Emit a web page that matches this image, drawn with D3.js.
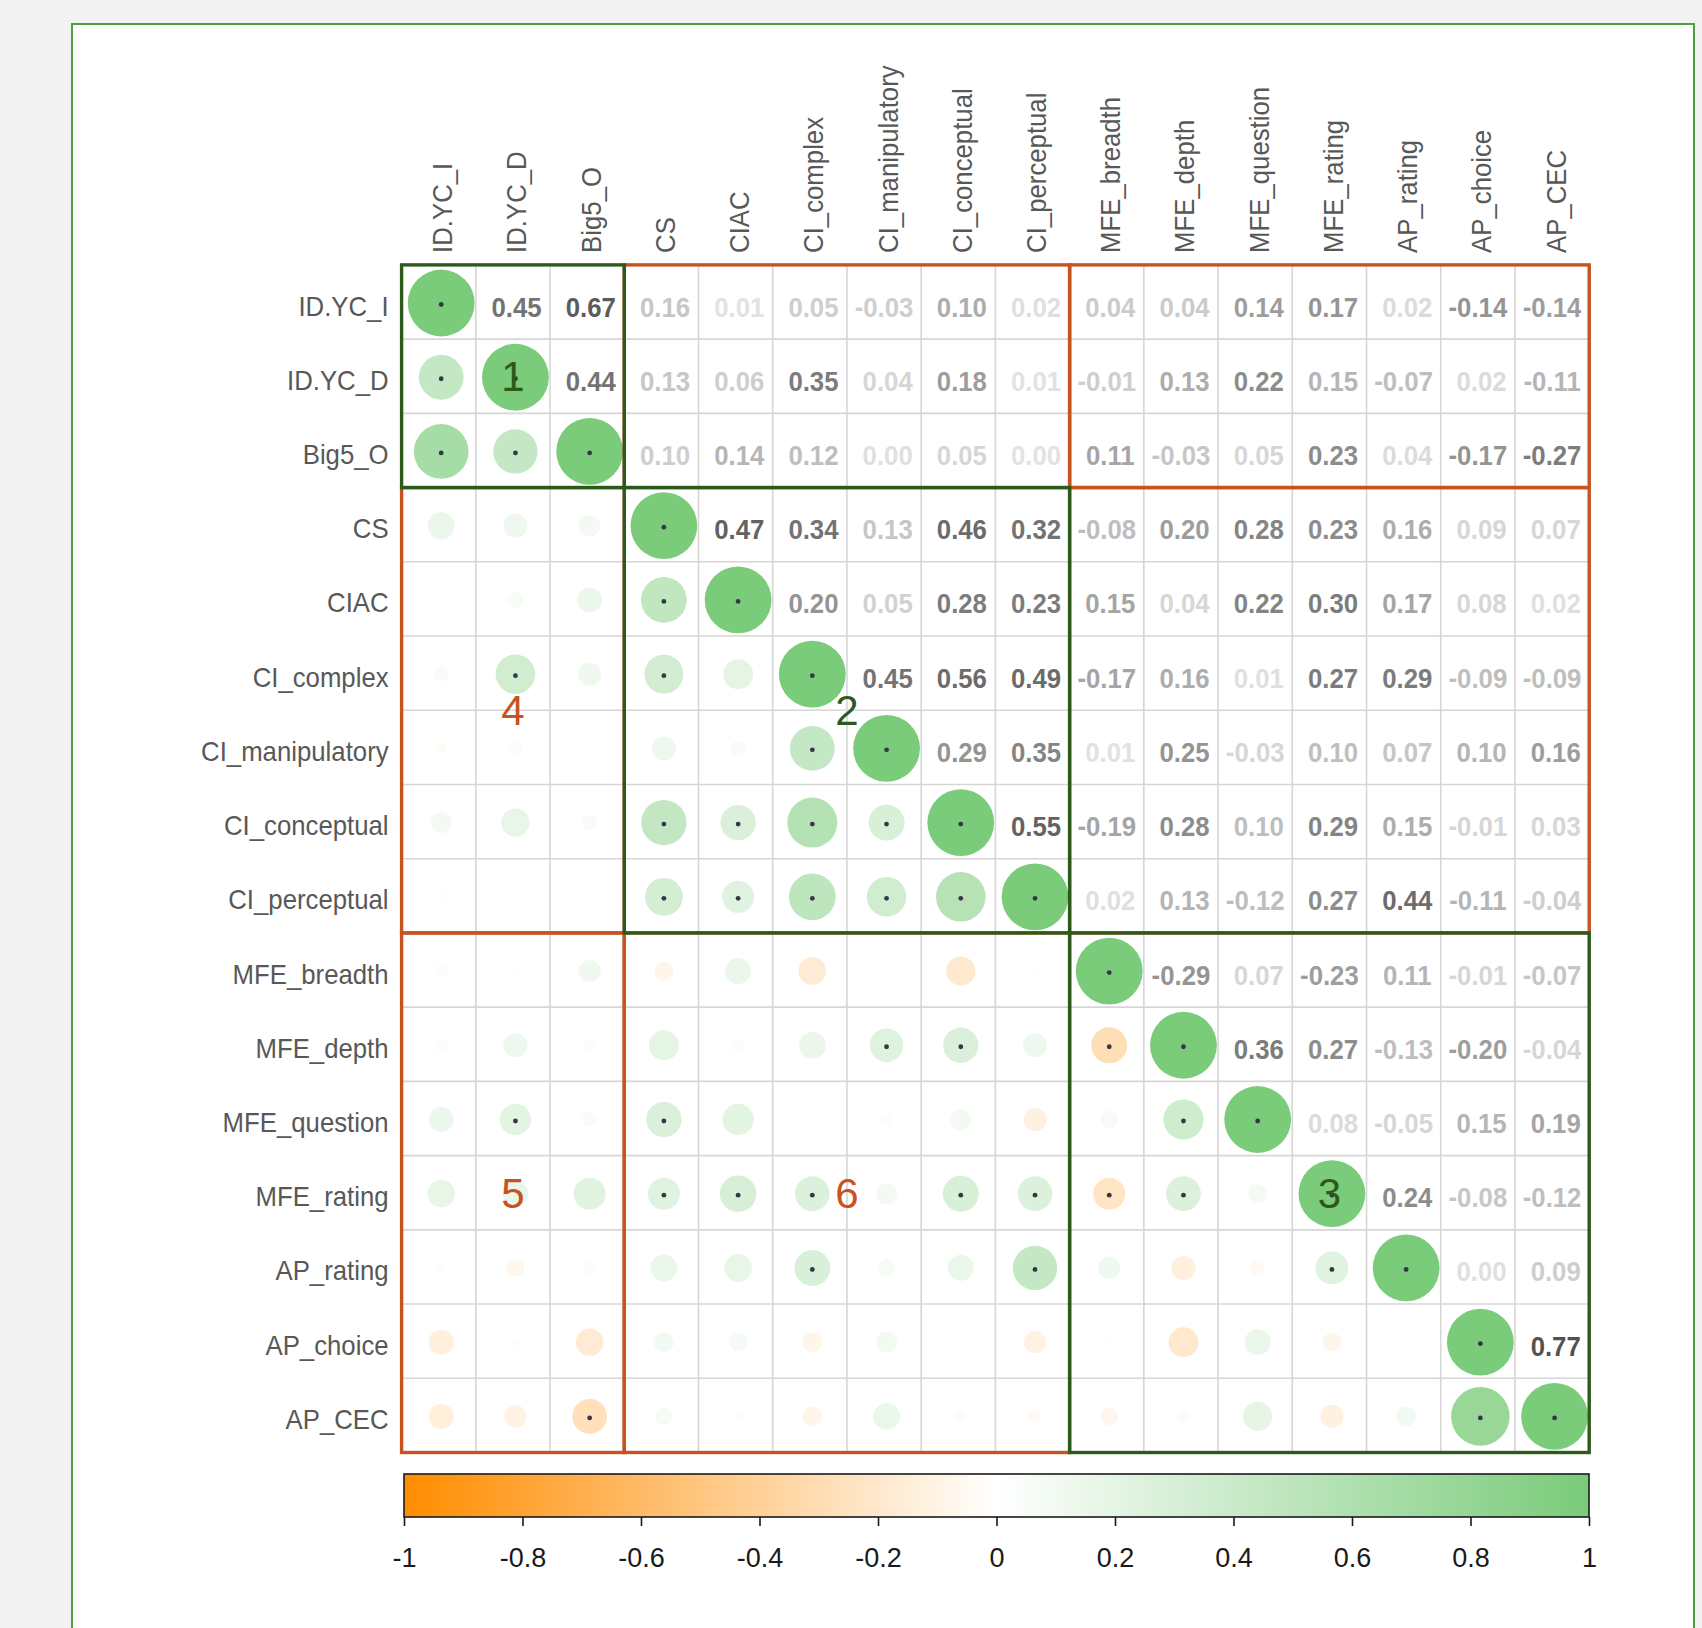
<!DOCTYPE html>
<html><head><meta charset="utf-8">
<script src="https://cdn.jsdelivr.net/npm/d3@7"></script>
<style>html,body{margin:0;padding:0;background:#f3f3f3;} svg{display:block}</style>
</head><body><svg id="chart" width="1702" height="1628"></svg>
<script>
// ---------------- DATA ----------------
const variables = ["ID.YC_I","ID.YC_D","Big5_O","CS","CIAC","CI_complex","CI_manipulatory",
  "CI_conceptual","CI_perceptual","MFE_breadth","MFE_depth","MFE_question","MFE_rating",
  "AP_rating","AP_choice","AP_CEC"];

// correlations above the diagonal, row by row (columns after the diagonal)
const corr_ID_YC_I        = [0.45, 0.67, 0.16, 0.01, 0.05, -0.03, 0.10, 0.02, 0.04, 0.04, 0.14, 0.17, 0.02, -0.14, -0.14];
const corr_ID_YC_D        = [0.44, 0.13, 0.06, 0.35, 0.04, 0.18, 0.01, -0.01, 0.13, 0.22, 0.15, -0.07, 0.02, -0.11];
const corr_Big5_O         = [0.10, 0.14, 0.12, 0.00, 0.05, 0.00, 0.11, -0.03, 0.05, 0.23, 0.04, -0.17, -0.27];
const corr_CS             = [0.47, 0.34, 0.13, 0.46, 0.32, -0.08, 0.20, 0.28, 0.23, 0.16, 0.09, 0.07];
const corr_CIAC           = [0.20, 0.05, 0.28, 0.23, 0.15, 0.04, 0.22, 0.30, 0.17, 0.08, 0.02];
const corr_CI_complex     = [0.45, 0.56, 0.49, -0.17, 0.16, 0.01, 0.27, 0.29, -0.09, -0.09];
const corr_CI_manipulatory= [0.29, 0.35, 0.01, 0.25, -0.03, 0.10, 0.07, 0.10, 0.16];
const corr_CI_conceptual  = [0.55, -0.19, 0.28, 0.10, 0.29, 0.15, -0.01, 0.03];
const corr_CI_perceptual  = [0.02, 0.13, -0.12, 0.27, 0.44, -0.11, -0.04];
const corr_MFE_breadth    = [-0.29, 0.07, -0.23, 0.11, -0.01, -0.07];
const corr_MFE_depth      = [0.36, 0.27, -0.13, -0.20, -0.04];
const corr_MFE_question   = [0.08, -0.05, 0.15, 0.19];
const corr_MFE_rating     = [0.24, -0.08, -0.12];
const corr_AP_rating      = [0.00, 0.09];
const corr_AP_choice      = [0.77];

// darkness of the printed coefficient (0 = faint, 1 = dark), same layout
const shade_ID_YC_I        = [0.75, 0.9, 0.25, 0.08, 0.2, 0.2, 0.4, 0.1, 0.22, 0.22, 0.5, 0.55, 0.12, 0.55, 0.5];
const shade_ID_YC_D        = [0.75, 0.25, 0.2, 0.7, 0.15, 0.5, 0.08, 0.2, 0.4, 0.6, 0.35, 0.3, 0.12, 0.35];
const shade_Big5_O         = [0.2, 0.35, 0.3, 0.1, 0.15, 0.08, 0.45, 0.25, 0.15, 0.6, 0.12, 0.55, 0.7];
const shade_CS             = [0.85, 0.75, 0.25, 0.8, 0.75, 0.3, 0.5, 0.65, 0.6, 0.4, 0.15, 0.15];
const shade_CIAC           = [0.55, 0.18, 0.7, 0.7, 0.45, 0.15, 0.65, 0.7, 0.45, 0.15, 0.1];
const shade_CI_complex     = [0.75, 0.8, 0.8, 0.45, 0.4, 0.1, 0.7, 0.7, 0.3, 0.3];
const shade_CI_manipulatory= [0.55, 0.65, 0.08, 0.55, 0.15, 0.3, 0.25, 0.35, 0.5];
const shade_CI_conceptual  = [0.85, 0.45, 0.6, 0.3, 0.65, 0.4, 0.15, 0.15];
const shade_CI_perceptual  = [0.1, 0.35, 0.3, 0.6, 0.8, 0.35, 0.2];
const shade_MFE_breadth    = [0.55, 0.15, 0.5, 0.35, 0.15, 0.25];
const shade_MFE_depth      = [0.7, 0.6, 0.3, 0.5, 0.15];
const shade_MFE_question   = [0.12, 0.15, 0.35, 0.45];
const shade_MFE_rating     = [0.6, 0.25, 0.3];
const shade_AP_rating      = [0.1, 0.2];
const shade_AP_choice      = [0.95];

// cells below the diagonal that carry a significance dot [row, col]
const sigPairs = [[1,0],[2,0],[2,1],[4,3],[5,1],[5,3],[6,5],[7,3],[7,4],[7,5],[7,6],
  [8,3],[8,4],[8,5],[8,6],[8,7],[10,6],[10,7],[10,9],[11,1],[11,3],[11,10],
  [12,3],[12,4],[12,5],[12,7],[12,8],[12,9],[12,10],[13,5],[13,8],[13,12],[15,2],[15,14]];

// variable groups (first and last index) and block labels
const groupStart = [0, 3, 9];
const groupEnd   = [2, 8, 15];
const diagLabels = ["1", "2", "3"];
const offBlocks  = [[1,0],[2,0],[2,1]]; // [rowGroup, colGroup] below diagonal
const offLabels  = ["4", "5", "6"];

const cbTicks  = [-1,-0.8,-0.6,-0.4,-0.2,0,0.2,0.4,0.6,0.8,1];
const cbLabels = ["-1","-0.8","-0.6","-0.4","-0.2","0","0.2","0.4","0.6","0.8","1"];

// ---------------- BUILD ----------------
const upperRows = [corr_ID_YC_I,corr_ID_YC_D,corr_Big5_O,corr_CS,corr_CIAC,corr_CI_complex,
  corr_CI_manipulatory,corr_CI_conceptual,corr_CI_perceptual,corr_MFE_breadth,corr_MFE_depth,
  corr_MFE_question,corr_MFE_rating,corr_AP_rating,corr_AP_choice];
const shadeRows = [shade_ID_YC_I,shade_ID_YC_D,shade_Big5_O,shade_CS,shade_CIAC,shade_CI_complex,
  shade_CI_manipulatory,shade_CI_conceptual,shade_CI_perceptual,shade_MFE_breadth,shade_MFE_depth,
  shade_MFE_question,shade_MFE_rating,shade_AP_rating,shade_AP_choice];
const n = variables.length;
const M = d3.range(n).map(i => d3.range(n).map(j => 1));
const S = d3.range(n).map(i => d3.range(n).map(j => 1));
upperRows.forEach((row, i) => row.forEach((v, k) => {
  const j = i + 1 + k; M[i][j] = v; M[j][i] = v; S[i][j] = shadeRows[i][k];
}));
const sigSet = new Set(sigPairs.map(p => p[0] + "-" + p[1]));

const svg = d3.select("#chart");
const gridLeft = 401.6, gridTop = 264.9, gridSize = 1187.6;
const x = d3.scaleBand().domain(variables).range([gridLeft, gridLeft + gridSize]).padding(0);
const y = d3.scaleBand().domain(variables).range([gridTop, gridTop + gridSize]).padding(0);
const bw = x.bandwidth();
const color = d3.scaleLinear().domain([-1, 0, 1]).range(["#ff8c00", "#ffffff", "#7acb7a"]);
const rad = d3.scaleSqrt().domain([0, 1]).range([0, bw * 0.45]);
const textCol = d3.interpolateRgb("#efefef", "#4a4a4a");
const FONT = "'Liberation Sans', Arial, Helvetica, sans-serif";

// frame
svg.append("rect").attr("x", 72).attr("y", 24).attr("width", 1622).attr("height", 1700)
  .attr("fill", "#ffffff").attr("stroke", "#4f9e3f").attr("stroke-width", 2);

// grid lines
const bounds = d3.range(n + 1).map(k => k < n ? x(variables[k]) : x(variables[n-1]) + bw);
const gridG = svg.append("g").attr("stroke", "#d6d6d6").attr("stroke-width", 1.6);
bounds.forEach(b => {
  gridG.append("line").attr("x1", b).attr("x2", b).attr("y1", gridTop).attr("y2", gridTop + gridSize);
});
const ybounds = d3.range(n + 1).map(k => k < n ? y(variables[k]) : y(variables[n-1]) + bw);
ybounds.forEach(b => {
  gridG.append("line").attr("y1", b).attr("y2", b).attr("x1", gridLeft).attr("x2", gridLeft + gridSize);
});

// circles (lower triangle incl. diagonal)
const lower = [];
const upper = [];
for (let i = 0; i < n; i++) for (let j = 0; j < n; j++) {
  if (j <= i) lower.push({i, j, r: M[i][j]});
  else upper.push({i, j, r: M[i][j], s: S[i][j]});
}
svg.append("g").selectAll("circle").data(lower).join("circle")
  .attr("cx", d => x(variables[d.j]) + bw / 2 + 2.5)
  .attr("cy", d => y(variables[d.i]) + bw / 2 + 1)
  .attr("r", d => rad(Math.abs(d.r)))
  .attr("fill", d => color(d.r));

// significance dots
svg.append("g").selectAll("circle").data(lower.filter(d => d.i === d.j || sigSet.has(d.i + "-" + d.j))).join("circle")
  .attr("cx", d => x(variables[d.j]) + bw / 2 + 2.5)
  .attr("cy", d => y(variables[d.i]) + bw / 2 + 2.5)
  .attr("r", 2.4).attr("fill", "#363646");

// numbers (upper triangle)
svg.append("g").selectAll("text").data(upper).join("text")
  .attr("transform", d => `translate(${x(variables[d.j]) + bw / 2 + (d.r >= 0 ? 3.6 : 0)},${y(variables[d.i]) + bw / 2 + 14.5}) scale(0.92,1)`)
  .attr("text-anchor", "middle")
  .attr("font-family", FONT).attr("font-size", 28).attr("font-weight", "bold")
  .attr("fill", d => textCol(d.s))
  .text(d => d.r.toFixed(2));

// group boxes
function blockRect(g, ri, ci, stroke) {
  const x0 = x(variables[groupStart[ci]]), x1 = x(variables[groupEnd[ci]]) + bw;
  const y0 = y(variables[groupStart[ri]]), y1 = y(variables[groupEnd[ri]]) + bw;
  g.append("rect").attr("x", x0).attr("y", y0).attr("width", x1 - x0).attr("height", y1 - y0)
    .attr("fill", "none").attr("stroke", stroke).attr("stroke-width", 3.4);
}
const boxG = svg.append("g");
for (let a = 0; a < 3; a++) for (let b = 0; b < 3; b++) if (a !== b) blockRect(boxG, a, b, "#c75222");
for (let a = 0; a < 3; a++) blockRect(boxG, a, a, "#2d5a1b");

// block labels
const blockCenter = (gi) => {
  const a = x(variables[groupStart[gi]]), b = x(variables[groupEnd[gi]]) + bw;
  return (a + b) / 2;
};
const blockCenterY = (gi) => {
  const a = y(variables[groupStart[gi]]), b = y(variables[groupEnd[gi]]) + bw;
  return (a + b) / 2;
};
const labG = svg.append("g").attr("font-family", FONT).attr("font-size", 42).attr("text-anchor", "middle");
diagLabels.forEach((t, k) => {
  labG.append("text").attr("x", blockCenter(k)).attr("y", blockCenterY(k) + 15).attr("fill", "#2d5a1b").text(t);
});
offLabels.forEach((t, k) => {
  const [ri, ci] = offBlocks[k];
  labG.append("text").attr("x", blockCenter(ci)).attr("y", blockCenterY(ri) + 15).attr("fill", "#c75222").text(t);
});

// row labels
svg.append("g").selectAll("text").data(variables).join("text")
  .attr("transform", d => `translate(${gridLeft - 13},${y(d) + bw / 2 + 13.5}) scale(0.92,1)`)
  .attr("text-anchor", "end")
  .attr("font-family", FONT).attr("font-size", 28).attr("fill", "#585858")
  .text(d => d);

// column labels
svg.append("g").selectAll("text").data(variables).join("text")
  .attr("transform", d => `translate(${x(d) + bw / 2 + 13.5},${gridTop - 12}) rotate(-90) scale(0.92,1)`)
  .attr("text-anchor", "start")
  .attr("font-family", FONT).attr("font-size", 28).attr("fill", "#585858")
  .text(d => d);

// colour bar
const cb = d3.scaleLinear().domain([-1, 1]).range([404, 1589]);
const defs = svg.append("defs");
const grad = defs.append("linearGradient").attr("id", "cbgrad").attr("x1", "0%").attr("x2", "100%");
d3.range(0, 1.0001, 0.05).forEach(t => {
  grad.append("stop").attr("offset", (t * 100) + "%").attr("stop-color", color(-1 + 2 * t));
});
const cbTop = 1474, cbBot = 1517;
svg.append("rect").attr("x", cb(-1)).attr("y", cbTop).attr("width", cb(1) - cb(-1)).attr("height", cbBot - cbTop)
  .attr("fill", "url(#cbgrad)").attr("stroke", "#1a1a1a").attr("stroke-width", 1.6);
const axisG = svg.append("g").attr("transform", `translate(0,${cbBot})`)
  .call(d3.axisBottom(cb).tickValues(cbTicks).tickSize(9).tickFormat((d, i) => cbLabels[i]));
axisG.select(".domain").remove();
axisG.selectAll(".tick line").attr("stroke", "#1a1a1a").attr("stroke-width", 1.6);
axisG.selectAll(".tick text").attr("y", 50).attr("dy", 0)
  .attr("font-family", FONT).attr("font-size", 27).attr("fill", "#1a1a1a");
</script></body></html>
